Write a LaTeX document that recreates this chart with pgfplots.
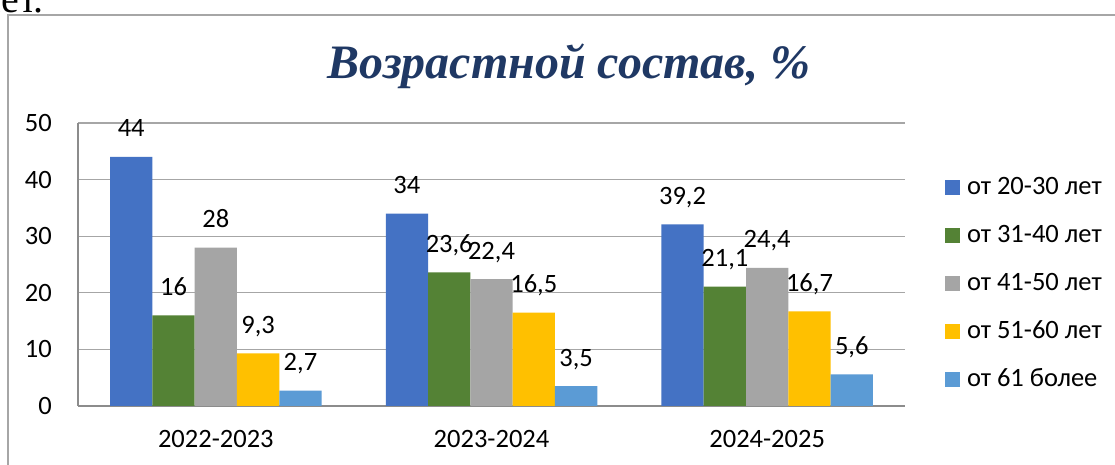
\documentclass[border=0pt]{standalone}
\usepackage{pgfplots}
\pgfplotsset{compat=1.18}
\usepackage{fontspec}
\setmainfont{Carlito}
\newfontfamily\serifru{Liberation Serif}
\definecolor{c1}{HTML}{4472C4}
\definecolor{c2}{HTML}{548235}
\definecolor{c3}{HTML}{A5A5A5}
\definecolor{c4}{HTML}{FFC000}
\definecolor{c5}{HTML}{5B9BD5}
\definecolor{titlec}{HTML}{1F3864}
\definecolor{gridc}{HTML}{A6A6A6}
\definecolor{axisc}{HTML}{8C8C8C}
\newcommand\lbl{\fontsize{26.5}{31}\selectfont}
\begin{document}
\begin{tikzpicture}[x=1pt,y=1pt]
\useasboundingbox (0,0) rectangle (1115,465);
\clip (0,0) rectangle (1115,465);
\fill[white] (0,0) rectangle (1115,465);
\node[anchor=base east, inner sep=0pt, font=\serifru\fontsize{40}{44}\selectfont] at (44,452) {лет.};
\draw[gridc, line width=1.5pt] (8,450) rectangle (1130,-10);
\node[anchor=base, inner sep=0pt, text=titlec, font=\serifru\bfseries\itshape\fontsize{48}{56}\selectfont] at (569,386) {Возрастной состав, \%};
\begin{axis}[
  at={(78pt,59pt)}, anchor=south west,
  scale only axis, width=827pt, height=283pt,
  ymin=0, ymax=50, ytick={0,10,20,30,40,50},
  xmin=-0.5, xmax=2.5, xtick={0,1,2},
  xticklabels={2022-2023,2023-2024,2024-2025},
  ymajorgrids, grid style={gridc, line width=1.3pt},
  axis x line*=bottom, axis y line*=left,
  axis line style={axisc, line width=1.5pt, -},
  major tick length=0pt, tick style={draw=none},
  ybar=0pt, bar width=42.3pt,
  clip=false,
  /pgf/number format/assume math mode=true,
  tick label style={font=\lbl, inner sep=0pt},
  yticklabel style={anchor=east, xshift=-26pt},
  xticklabel style={anchor=base, yshift=-42pt},
  point meta=explicit symbolic,
  nodes near coords,
  every node near coord/.append style={font=\lbl, anchor=base, inner sep=0pt, yshift=20pt},
  legend style={at={(rel axis cs:1.0484,0.7986)}, anchor=north west, draw=none, fill=none,
    inner sep=0pt, outer sep=0pt, row sep=28pt, column sep=7pt, font=\lbl,
    nodes={inner sep=0pt, text height=15pt, text depth=5pt, anchor=base west}},
  legend cell align=left,
]
\addplot[fill=c1, draw=none, legend image code/.code={\fill[c1] (0pt,0pt) rectangle (15pt,15pt);}]
  coordinates {(0,44) [44] (1,34) [34] (2,32.1) [{39,2}]};
\addplot[fill=c2, draw=none, legend image code/.code={\fill[c2] (0pt,0pt) rectangle (15pt,15pt);}]
  coordinates {(0,16) [16] (1,23.6) [{23,6}] (2,21.1) [{21,1}]};
\addplot[fill=c3, draw=none, legend image code/.code={\fill[c3] (0pt,0pt) rectangle (15pt,15pt);}]
  coordinates {(0,28) [28] (1,22.4) [{22,4}] (2,24.4) [{24,4}]};
\addplot[fill=c4, draw=none, legend image code/.code={\fill[c4] (0pt,0pt) rectangle (15pt,15pt);}]
  coordinates {(0,9.3) [{9,3}] (1,16.5) [{16,5}] (2,16.7) [{16,7}]};
\addplot[fill=c5, draw=none, legend image code/.code={\fill[c5] (0pt,0pt) rectangle (15pt,15pt);}]
  coordinates {(0,2.7) [{2,7}] (1,3.5) [{3,5}] (2,5.6) [{5,6}]};
\legend{от 20-30 лет, от 31-40 лет, от 41-50 лет, от 51-60 лет, от 61 более}
\end{axis}
\end{tikzpicture}
\end{document}
